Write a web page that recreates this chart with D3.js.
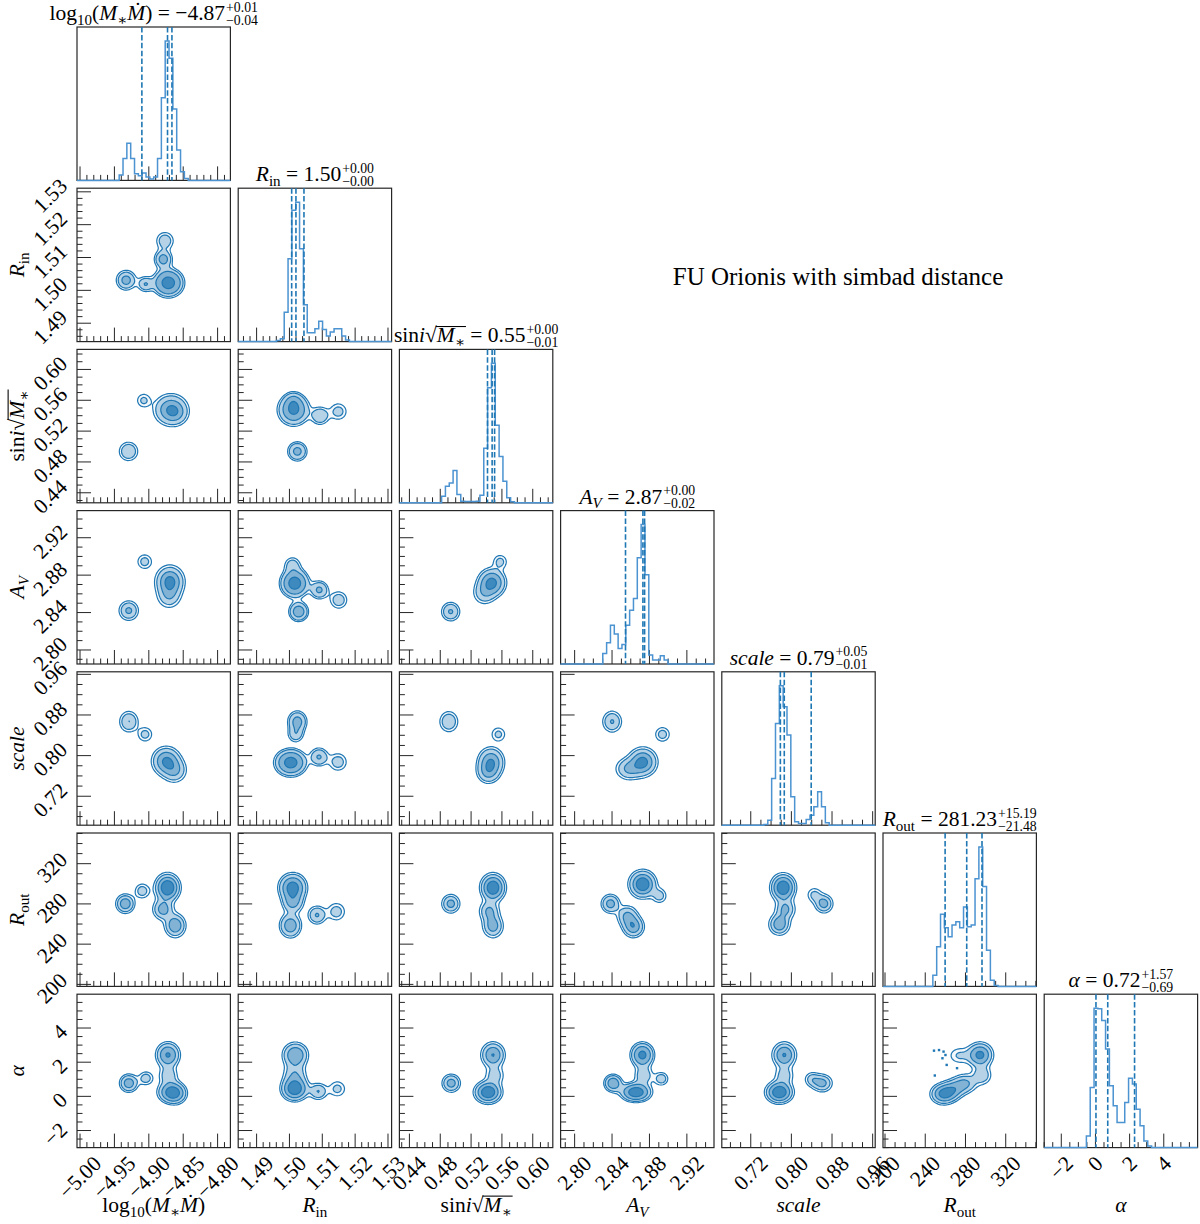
<!DOCTYPE html>
<html>
<head>
<meta charset="utf-8">
<script src="https://cdn.jsdelivr.net/npm/d3@7/dist/d3.min.js"></script>
<style>
  body { margin: 0; background: #fff; }
  svg text { font-family: "Liberation Serif", "Times New Roman", "DejaVu Serif", serif; fill: #000; }
</style>
</head>
<body>
<svg id="corner" width="1200" height="1224"></svg>
<script>
// parameter order: log10(M*Mdot), Rin, sini*sqrt(M*), Av, scale, Rout, alpha
var ranges = [[-5.0044,-4.7814],[1.4844,1.5311],[0.427,0.626],[2.785,2.949],[0.663,0.965],[198,350.5],[-3.0,5.98]];
var majorTicks = [
  [-5.00,-4.95,-4.90,-4.85,-4.80],
  [1.49,1.50,1.51,1.52,1.53],
  [0.44,0.48,0.52,0.56,0.60],
  [2.80,2.84,2.88,2.92],
  [0.72,0.80,0.88,0.96],
  [200,240,280,320],
  [-2,0,2,4]
];
var minorStep = [0.01,0.002,0.01,0.01,0.02,10,0.5];
var decimals = [2,2,2,2,2,0,0];

// 1d histograms, 40 bins across each range
var hLogM  = [0,0,0,0,0,0,0,0,0,0,0,16,66,111,66,20,14,22,10,4,10,66,248,418,366,214,91,26,6,0,0,0,0,0,0,0,0,0,0,0];
var hRin   = [0,0,0,0,0,0,0,0,0,0,3,9,89,252,399,424,282,112,27,27,39,62,37,17,29,39,39,17,5,0,0,0,0,0,0,0,0,0,0,0];
var hSini  = [0,0,0,0,0,0,0,0,0,0,0,20,50,60,98,25,5,4,4,4,5,23,165,348,422,235,140,65,15,3,0,0,0,0,0,0,0,0,0,0];
var hAv    = [0,0,0,0,0,0,0,0,0,0,0,32,64,117,90,47,59,117,162,197,320,420,269,27,12,12,25,12,0,0,0,0,0,0,0,0,0,0,0,0];
var hScale = [0,0,0,0,0,0,0,0,0,0,0,2,15,140,305,418,355,270,85,10,5,5,17,30,55,100,55,7,0,0,0,0,0,0,0,0,0,0,0,0];
var hRout  = [0,0,0,0,0,0,0,0,0,0,0,0,0,33,118,215,175,148,183,193,175,237,178,183,321,416,298,108,18,3,0,0,0,0,0,0,0,0,0,0];
var hAlpha = [0,0,0,0,0,0,0,0,0,0,0,35,180,417,415,380,295,185,125,75,75,135,207,190,115,65,20,5,0,0,0,0,0,0,0,0,0,0,0,0];
var hists = [hLogM, hRin, hSini, hAv, hScale, hRout, hAlpha];

// 16/50/84 % quantiles (dashed lines)
var quantiles = [[-4.9101,-4.8728,-4.8664],[1.50068,1.50198,1.50442],[0.5413,0.5473,0.5505],
  [2.8544,2.8730,2.8748],[0.7783,0.7860,0.8390],[259.75,281.23,296.42],[0.03,0.72,2.29]];
var titleVal = ["\u22124.87","1.50","0.55","2.87","0.79","281.23","0.72"];
var titleUp  = ["+0.01","+0.00","+0.00","+0.00","+0.05","+15.19","+1.57"];
var titleDn  = ["\u22120.04","\u22120.00","\u22120.01","\u22120.02","\u22120.01","\u221221.48","\u22120.69"];

// label pieces: [text, kind] kind: i italic, s subscript, o under the root bar
var labelParts = [
  [["log",""],["10","s"],["(",""],["M","i"],["\u2217","s"],["\u1E40","i"],[")",""]],
  [["R","i"],["in","s"]],
  [["sin",""],["i","i"],["\u221A",""],["M","io"],["\u2217","so"]],
  [["A","i"],["V","si"]],
  [["scale","i"]],
  [["R","i"],["out","s"]],
  [["\u03B1","i"]]
];

// 2d density modes per panel: [x, y, weight, sigma factor x, sigma factor y]
var sig = [0.0089, 0.00187, 0.0079, 0.0066, 0.0121, 6.2, 0.35];
var blobsRin = [
  [[-4.933,1.5031,0.12,1.0,1.0],[-4.905,1.5019,0.06,0.8,0.8],[-4.8717,1.5023,0.45,1.3,1.2],[-4.879,1.5095,0.10,0.9,0.9],[-4.8765,1.5151,0.08,1.0,1.0]]
];
var blobsSini = [
  [[-4.9074,0.5597,0.06,0.8,0.8],[-4.9295,0.4937,0.14,0.9,0.9],[-4.868,0.5476,0.65,1.4,1.3],[-4.86,0.543,0.10,1.0,1.0]],
  [[1.5013,0.5476,0.55,1.3,1.3],[1.5093,0.5398,0.10,0.9,0.9],[1.5149,0.5454,0.08,1.0,1.0],[1.5024,0.4937,0.14,0.9,0.9],[1.5012,0.559,0.06,0.8,0.8]]
];
var blobsAv = [
  [[-4.906,2.8944,0.06,0.8,0.8],[-4.9292,2.8421,0.14,0.9,0.9],[-4.8693,2.8731,0.50,1.2,1.3],[-4.8706,2.8571,0.15,1.1,1.1]],
  [[1.5016,2.8713,0.45,1.2,1.2],[1.5009,2.891,0.06,0.9,0.9],[1.5091,2.8642,0.10,0.9,0.9],[1.5150,2.8534,0.08,1.0,1.0],[1.5028,2.841,0.14,0.9,0.9]],
  [[0.5577,2.8944,0.06,0.8,0.8],[0.547,2.872,0.50,1.2,1.2],[0.5369,2.8606,0.15,1.1,1.1],[0.4935,2.841,0.14,0.9,0.9]]
];
var blobsScale = [
  [[-4.929,0.8669,0.14,0.9,1.0],[-4.9054,0.8418,0.06,0.8,0.8],[-4.8746,0.789,0.45,1.2,1.2],[-4.8626,0.7708,0.20,1.1,1.1]],
  [[1.5024,0.8669,0.14,0.9,1.0],[1.5019,0.8418,0.06,0.8,0.8],[1.5004,0.7862,0.50,1.3,1.1],[1.5090,0.7974,0.10,0.9,0.9],[1.5148,0.7874,0.08,1.0,1.0]],
  [[0.4911,0.8669,0.14,0.9,1.0],[0.5554,0.8418,0.06,0.8,0.8],[0.5458,0.7874,0.45,1.1,1.2],[0.5422,0.7675,0.20,1.0,1.0]],
  [[2.8401,0.8669,0.14,0.9,1.0],[2.8939,0.8418,0.06,0.8,0.8],[2.8729,0.7874,0.45,1.2,1.2],[2.858,0.774,0.20,1.2,1.0]]
];
var blobsRout = [
  [[-4.9342,280.2,0.14,0.9,0.9],[-4.9096,292.9,0.06,0.8,0.8],[-4.8728,296.2,0.40,1.1,1.2],[-4.8795,274.6,0.15,1.0,1.0],[-4.8617,258.5,0.20,1.0,1.1]],
  [[1.5010,296.2,0.40,1.2,1.2],[1.5010,281.3,0.14,1.0,1.0],[1.5003,258.5,0.20,1.0,1.1],[1.5084,268.9,0.10,0.9,0.9],[1.5143,272.3,0.08,1.0,1.0]],
  [[0.4937,280.2,0.14,0.9,0.9],[0.5484,296.2,0.45,1.1,1.2],[0.5434,272.9,0.15,1.0,1.0],[0.5484,257.9,0.20,1.0,1.1]],
  [[2.8383,280.2,0.14,0.9,0.9],[2.8727,299.6,0.45,1.2,1.2],[2.8908,288,0.06,0.8,0.8],[2.8563,268,0.15,1.0,1.0],[2.8629,257.3,0.20,1.0,1.0]],
  [[0.7838,296.2,0.45,1.1,1.2],[0.7883,274.6,0.15,1.0,1.0],[0.7763,259.6,0.20,1.0,1.0],[0.864,280.2,0.14,0.9,0.9],[0.845,289,0.06,0.8,0.8]]
];
var blobsAlpha = [
  [[-4.9291,0.772,0.14,0.9,0.9],[-4.9041,1.06,0.06,0.8,0.8],[-4.8722,2.424,0.30,1.1,1.2],[-4.8717,1.22,0.10,1.0,1.0],[-4.8678,0.24,0.30,1.2,1.0],[-4.8595,0.14,0.10,1.0,1.0]],
  [[1.5018,2.424,0.30,1.2,1.2],[1.5016,1.3,0.15,1.2,1.2],[1.5016,0.44,0.40,1.2,1.1],[1.5088,0.287,0.10,0.9,0.9],[1.5146,0.44,0.08,1.0,1.0]],
  [[0.4942,0.772,0.14,0.9,0.9],[0.5484,2.424,0.30,1.1,1.2],[0.5508,1.22,0.10,1.0,1.0],[0.5420,0.24,0.40,1.2,1.0]],
  [[2.8411,0.772,0.14,0.9,0.9],[2.8655,0.24,0.35,1.4,0.9],[2.8724,2.424,0.30,1.1,1.2],[2.8737,1.22,0.10,1.0,1.0],[2.8929,1.03,0.06,0.8,0.8]],
  [[0.786,2.424,0.30,1.1,1.2],[0.786,1.22,0.10,1.0,1.0],[0.7763,0.24,0.40,1.2,1.0],[0.8608,0.772,0.14,1.0,0.9],[0.8404,1.0,0.06,0.8,0.8]],
  [[258.2,0.14,0.25,1.2,1.0],[268,0.4,0.12,1.1,1.0],[279.2,0.74,0.15,1.2,1.0],[296.4,1.22,0.10,1.0,1.0],[294.5,2.424,0.30,1.2,1.2],[273.5,2.39,0.08,1.2,1.0]]
];
var pairBlobs = [null, blobsRin, blobsSini, blobsAv, blobsScale, blobsRout, blobsAlpha];
// stray samples in the Rout / alpha panel
var specks = [[248.7,2.675],[253.7,2.71],[258.2,2.62],[260.1,2.42],[257.1,2.23],[261.3,1.84],[271.6,1.65],[249.5,1.22]];
var levels = [0.15, 0.45, 0.74, 0.86];

var K = 7, L = 77, T = 27, S = 153.4, P = 161.2;
var tickFs = 21.5, labFs = 21.5, titleFs = 21.5;
var blue = "#1f77b4", histBlue = "#4b93d1", spine = "#262626";
var bandCols = [0.05, 0.33, 0.56, 0.86].map(function(a){ return d3.interpolateRgb("#ffffff", blue)(a); });

var svg = d3.select("#corner");
var xs = ranges.map(function(r){ return d3.scaleLinear().domain(r).range([0,S]); });
var ys = ranges.map(function(r){ return d3.scaleLinear().domain(r).range([S,0]); });

function fmt(j, v){ return d3.format("." + decimals[j] + "f")(v).replace("-", "\u2212"); }

function minorTicks(j){
  var lo = ranges[j][0], hi = ranges[j][1], st = minorStep[j], out = [];
  for (var k = Math.ceil(lo/st - 1e-9); k <= Math.floor(hi/st + 1e-9); k++){
    var v = k*st;
    if (!majorTicks[j].some(function(m){ return Math.abs(m - v) < st*0.01; })) out.push(v);
  }
  return out;
}

function drawTicks(g, j, axis){
  var sc = axis == "x" ? xs[j] : ys[j];
  [[majorTicks[j], 14], [minorTicks(j), 5.5]].forEach(function(set){
    g.selectAll(null).data(set[0]).enter().append("line")
      .attr("x1", function(d){ return axis == "x" ? sc(d) : 0; })
      .attr("x2", function(d){ return axis == "x" ? sc(d) : set[1]; })
      .attr("y1", function(d){ return axis == "x" ? S : sc(d); })
      .attr("y2", function(d){ return axis == "x" ? S - set[1] : sc(d); })
      .attr("stroke", spine).attr("stroke-width", 1);
  });
}

// writes label pieces into a text element; returns baseline shift left open
function addMath(text, parts, fsz){
  var shift = 0, idx = 0, bar = null;
  parts.forEach(function(p){
    var kind = p[1], sub = kind.indexOf("s") >= 0;
    var off = sub ? 0.22*fsz : 0;
    var ts = text.append("tspan").text(p[0]).attr("dy", off - shift);
    shift = off;
    if (sub) ts.attr("font-size", 0.7*fsz);
    if (kind.indexOf("i") >= 0) ts.attr("font-style", "italic");
    if (kind.indexOf("o") >= 0){
      if (!bar) bar = [idx, idx];
      bar[1] = idx + p[0].length - 1;
    }
    idx += p[0].length;
  });
  text.property("rootBar", bar);
  return shift;
}
// vinculum of the square root, drawn after the text is laid out
function drawBar(text, fsz){
  var bar = text.property("rootBar");
  if (!bar) return;
  var node = text.node();
  var a = node.getExtentOfChar(bar[0]), b = node.getExtentOfChar(bar[1]);
  var y = a.y + 0.13*a.height;
  d3.select(node.parentNode).append("line")
    .attr("transform", text.attr("transform"))
    .attr("x1", a.x - 1).attr("x2", b.x + b.width + 1).attr("y1", y).attr("y2", y)
    .attr("stroke", "#000").attr("stroke-width", fsz*0.05);
}

function frame(g){
  g.append("rect").attr("width", S).attr("height", S)
    .attr("fill", "none").attr("stroke", spine).attr("stroke-width", 1.2);
}

// diagonal histograms
for (var d = 0; d < K; d++){
  var g = svg.append("g").attr("transform", "translate(" + (L + d*P) + "," + (T + d*P) + ")");
  var h = hists[d], n = h.length;
  var hy = d3.scaleLinear().domain([0, 1.1*d3.max(h)]).range([S, 0]);
  var edge = d3.scaleLinear().domain([0, n]).range(ranges[d]);
  var pts = [[edge(0), 0]];
  h.forEach(function(v, k){ pts.push([edge(k), v]); pts.push([edge(k+1), v]); });
  pts.push([edge(n), 0]);
  drawTicks(g, d, "x");
  frame(g);
  var xsd = xs[d];
  g.append("path").datum(pts)
    .attr("d", d3.line().x(function(p){ return xsd(p[0]); }).y(function(p){ return hy(p[1]); }))
    .attr("fill", "none").attr("stroke", histBlue).attr("stroke-width", 1.5);
  g.selectAll(null).data(quantiles[d]).enter().append("line")
    .attr("x1", function(q){ return xsd(q); }).attr("x2", function(q){ return xsd(q); })
    .attr("y1", 0).attr("y2", S)
    .attr("stroke", blue).attr("stroke-width", 1.6).attr("stroke-dasharray", "5.5,2.4");

  // title with stacked errors
  var tg = g.append("g");
  var tt = tg.append("text").attr("y", -7).attr("font-size", titleFs);
  var sh = addMath(tt, labelParts[d], titleFs);
  tt.append("tspan").attr("dy", -sh).text(" = " + titleVal[d]);
  drawBar(tt, titleFs);
  var w = tt.node().getComputedTextLength();
  var up = tg.append("text").attr("x", w + 1).attr("y", -15.5).attr("font-size", 0.64*titleFs).text(titleUp[d]);
  var dn = tg.append("text").attr("x", w + 1).attr("y", -2.5).attr("font-size", 0.64*titleFs).text(titleDn[d]);
  var tw = w + 1 + Math.max(up.node().getComputedTextLength(), dn.node().getComputedTextLength());
  tg.attr("transform", "translate(" + (S/2 - tw/2) + ",0)");
}

// off-diagonal contour panels
var NG = 110;
function densityGrid(blobs, j, i){
  var grid = new Float64Array(NG*NG);
  for (var r = 0; r < NG; r++){
    var yv = ys[i].invert((r + 0.5)*S/NG);
    for (var c = 0; c < NG; c++){
      var xv = xs[j].invert((c + 0.5)*S/NG), v = 0;
      blobs.forEach(function(b){
        var sx = b[3]*sig[j], sy = b[4]*sig[i];
        var dx = (xv - b[0])/sx, dy = (yv - b[1])/sy;
        v += b[2]/(sx*sy)*Math.exp(-0.5*(dx*dx + dy*dy));
      });
      grid[r*NG + c] = v;
    }
  }
  return grid;
}
function massThresholds(grid){
  var sorted = Array.from(grid).sort(function(a, b){ return b - a; });
  var total = d3.sum(sorted), cum = 0, li = 0, out = [];
  for (var k = 0; k < sorted.length && li < levels.length; k++){
    cum += sorted[k];
    while (li < levels.length && cum >= levels[li]*total){ out.push(sorted[k]); li++; }
  }
  return out.reverse();
}
var gridPath = d3.geoPath(d3.geoTransform({ point: function(x, y){ this.stream.point(x*S/NG, y*S/NG); } }));

for (var i = 1; i < K; i++){
  for (var j = 0; j < i; j++){
    var g = svg.append("g").attr("transform", "translate(" + (L + j*P) + "," + (T + i*P) + ")");
    var cid = "clip" + i + "_" + j;
    g.append("clipPath").attr("id", cid).append("rect").attr("width", S).attr("height", S);
    var cg = g.append("g").attr("clip-path", "url(#" + cid + ")");
    var grid = densityGrid(pairBlobs[i][j], j, i);
    var th = massThresholds(grid);
    var cs = d3.contours().size([NG, NG]).thresholds(th)(grid);
    cg.selectAll("path.fill").data(cs).enter().append("path")
      .attr("d", gridPath).attr("fill", function(c, k){ return bandCols[k]; }).attr("stroke", "none");
    cg.selectAll("path.line").data(cs).enter().append("path")
      .attr("d", gridPath).attr("fill", "none").attr("stroke", blue).attr("stroke-width", 1.2);
    if (i == 6 && j == 5){
      var xr = xs[5], yr = ys[6];
      cg.selectAll(null).data(specks).enter().append("rect")
        .attr("x", function(p){ return xr(p[0]) - 1.2; }).attr("y", function(p){ return yr(p[1]) - 1.2; })
        .attr("width", 2.4).attr("height", 2.4).attr("fill", blue);
    }
    drawTicks(g, j, "x");
    drawTicks(g, i, "y");
    frame(g);
  }
}

// tick labels: left column and bottom row
function rotLabel(parent, txt, cx, cy, mode){
  var t = parent.append("text").attr("font-size", tickFs).attr("text-anchor", "middle")
    .attr("dominant-baseline", "central").text(txt);
  var w = t.node().getComputedTextLength(), dd = (w + tickFs*0.85)*0.3536;
  var x = mode == "x" ? cx : cx - dd, y = mode == "x" ? cy + dd : cy;
  t.attr("transform", "translate(" + x + "," + y + ") rotate(-45)");
}
for (var i = 1; i < K; i++){
  majorTicks[i].forEach(function(v){ rotLabel(svg, fmt(i, v), L - 7, T + i*P + ys[i](v) + 4, "y"); });
}
var bottom = T + 6*P + S;
for (var j = 0; j < K; j++){
  majorTicks[j].forEach(function(v){ rotLabel(svg, fmt(j, v), L + j*P + xs[j](v), bottom + 6, "x"); });
}

// axis labels
for (var j = 0; j < K; j++){
  var xl = svg.append("text").attr("font-size", labFs).attr("text-anchor", "middle")
    .attr("x", L + j*P + S/2).attr("y", 1212);
  addMath(xl, labelParts[j], labFs);
  drawBar(xl, labFs);
}
for (var i = 1; i < K; i++){
  var yl = svg.append("text").attr("font-size", labFs).attr("text-anchor", "middle")
    .attr("transform", "translate(24," + (T + i*P + S/2) + ") rotate(-90)");
  addMath(yl, labelParts[i], labFs);
  drawBar(yl, labFs);
}

svg.append("text").attr("x", 838).attr("y", 285).attr("font-size", 25).attr("text-anchor", "middle")
  .text("FU Orionis with simbad distance");
</script>
</body>
</html>
